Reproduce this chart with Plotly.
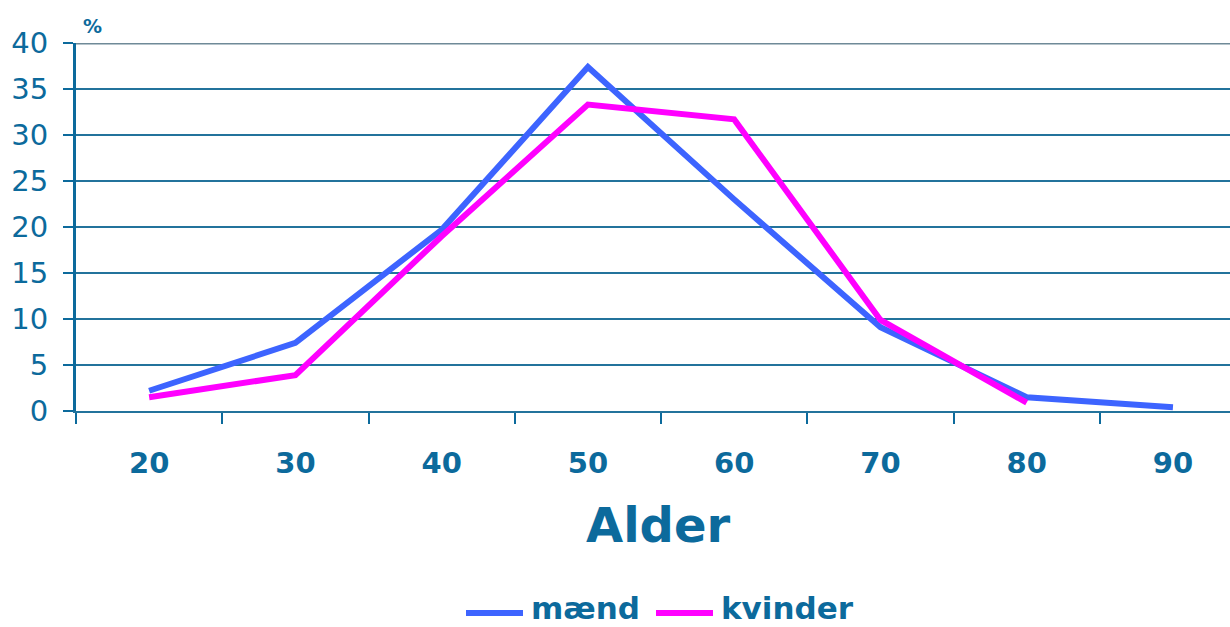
import plotly.graph_objects as go

# Age groups and share (%) per group
alder = ["20", "30", "40", "50", "60", "70", "80", "90"]
maend = [2.2, 7.4, 19.7, 37.4, 23.0, 9.1, 1.5, 0.4]
kvinder = [1.5, 3.9, 19.0, 33.3, 31.7, 9.9, 0.9]

AXIS_BLUE = "#0c6a9c"
GRID_BLUE = "#23739c"
BLUE = "#3d64ff"
MAGENTA = "#ff00ff"
FONT = "DejaVu Sans"

W, H = 1230, 627
ML, MR, MT, MB = 76, 0, 43, 216
PW, PH = W - ML - MR, H - MT - MB


def px(x):
    """Horizontal pixel -> paper fraction."""
    return (x - ML) / PW


def py(y):
    """Vertical pixel (from top) -> paper fraction."""
    return (H - MB - y) / PH


fig = go.Figure()
fig.add_trace(go.Scatter(
    x=alder, y=maend, name="mænd", mode="lines",
    line=dict(color=BLUE, width=6), showlegend=False,
))
fig.add_trace(go.Scatter(
    x=alder[:len(kvinder)], y=kvinder, name="kvinder", mode="lines",
    line=dict(color=MAGENTA, width=6), showlegend=False,
))

annotations = [
    dict(text="Alder", xref="paper", yref="paper", x=px(658), y=py(525),
         xanchor="center", yanchor="middle", showarrow=False,
         font=dict(family=FONT, size=48, color=AXIS_BLUE, weight="bold")),
    dict(text="%", xref="paper", yref="paper", x=px(81), y=py(26),
         xanchor="left", yanchor="middle", showarrow=False,
         font=dict(family=FONT, size=19, color=AXIS_BLUE, weight="bold")),
]
shapes = [
    # top border of the plot area at 40 %
    dict(type="line", xref="paper", yref="y", x0=0, x1=1, y0=40, y1=40,
         line=dict(color="#6f8a98", width=3), layer="below"),
]

# legend below the axis title: a long line sample followed by the series name
legend_items = [("mænd", BLUE, 466), ("kvinder", MAGENTA, 656)]
for label, color, x0 in legend_items:
    shapes.append(dict(type="line", xref="paper", yref="paper",
                       x0=px(x0), x1=px(x0 + 57), y0=py(613), y1=py(613),
                       line=dict(color=color, width=6)))
    annotations.append(dict(text=label, xref="paper", yref="paper",
                            x=px(x0 + 63), y=py(608), xanchor="left",
                            yanchor="middle", showarrow=False,
                            font=dict(family=FONT, size=31, color=AXIS_BLUE,
                                      weight="bold")))

fig.update_layout(
    width=W, height=H,
    margin=dict(l=ML, r=MR, t=MT, b=MB, autoexpand=False),
    paper_bgcolor="white", plot_bgcolor="white",
    font=dict(family=FONT, color=AXIS_BLUE),
    showlegend=False,
    xaxis=dict(
        type="category", categoryorder="array", categoryarray=alder,
        range=[-0.5, 7.39], tickson="boundaries",
        ticks="outside", ticklen=11, tickwidth=2, tickcolor=AXIS_BLUE,
        showgrid=False, showline=True, linecolor=GRID_BLUE, linewidth=2,
        tickfont=dict(family=FONT, size=29, color=AXIS_BLUE, weight="bold"),
        ticklabelstandoff=25,
    ),
    yaxis=dict(
        range=[0, 40], dtick=5, tick0=0,
        ticks="outside", ticklen=10, tickwidth=2, tickcolor=AXIS_BLUE,
        showgrid=True, gridcolor=GRID_BLUE, gridwidth=2,
        showline=True, linecolor=AXIS_BLUE, linewidth=3,
        zeroline=False,
        tickfont=dict(family=FONT, size=29, color=AXIS_BLUE),
        ticklabelstandoff=9,
    ),
    annotations=annotations,
    shapes=shapes,
)

fig.write_html("out.html")
